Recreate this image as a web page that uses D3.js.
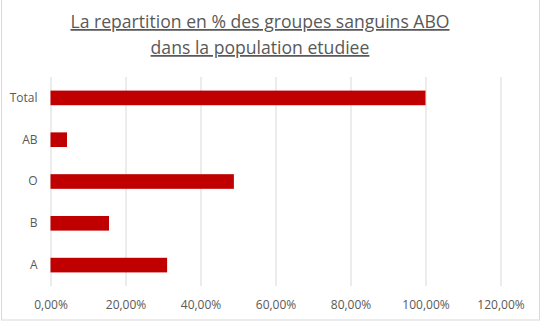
<!DOCTYPE html>
<html><head><meta charset="utf-8">
<script src="https://cdn.jsdelivr.net/npm/d3@7"></script>
<style>body{margin:0;background:#fff;}svg{display:block;font-family:"Open Sans",sans-serif;}</style>
</head><body><div id="c"></div>
<script>
const categories = ["Total", "AB", "O", "B", "A"];
const values = [100, 4.4, 48.9, 15.6, 31.1];
const xTicks = [0, 20, 40, 60, 80, 100, 120];
const titleLines = ["La repartition en % des groupes sanguins ABO", "dans la population etudiee"];

const W = 541, H = 323;
const svg = d3.select("#c").append("svg").attr("width", W).attr("height", H);
svg.append("rect").attr("x", 1.5).attr("y", -2).attr("width", 538).attr("height", 322)
  .attr("fill", "#fff").attr("stroke", "#d9d9d9");

const x = d3.scaleLinear().domain([0, 120]).range([50.5, 500.5]);
const y = d3.scaleBand().domain(categories).range([77, 286]).paddingInner(0.65).paddingOuter(0.325);

const fmt = d => d3.format(".2f")(d).replace(".", ",") + "%";

const gx = svg.append("g").attr("transform", "translate(0,286)")
  .call(d3.axisBottom(x).tickValues(xTicks).tickSize(209).tickFormat(fmt));
gx.select(".domain").remove();
gx.selectAll(".tick line").attr("y1", -209).attr("y2", 0).attr("stroke", "#d9d9d9");
gx.selectAll(".tick text").attr("y", 23).attr("dy", null).attr("fill", "#595959")
  .style("font-size", "12px").style("font-family", "Open Sans, sans-serif");

svg.append("g").selectAll("rect").data(categories).join("rect")
  .attr("x", x(0)).attr("y", d => y(d))
  .attr("width", (d, i) => x(values[i]) - x(0)).attr("height", y.bandwidth())
  .attr("fill", "#c00000");

const gy = svg.append("g").attr("transform", "translate(50.5,0)")
  .call(d3.axisLeft(y).tickSize(0).tickPadding(13));
gy.select(".domain").remove();
gy.selectAll(".tick text").attr("fill", "#595959").style("font-size", "12px")
  .style("font-family", "Open Sans, sans-serif");

svg.append("g").selectAll("text").data(titleLines).join("text")
  .attr("x", 260).attr("y", (d, i) => 28 + i * 26)
  .attr("text-anchor", "middle").attr("fill", "#595959")
  .style("font-size", "17.6px").style("text-decoration", "underline")
  .text(d => d);
</script></body></html>
